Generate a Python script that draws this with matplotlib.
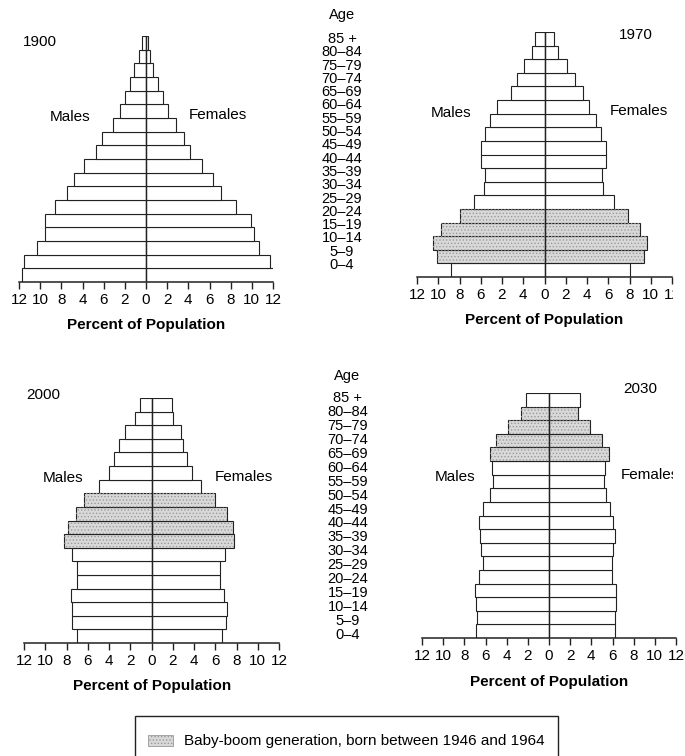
import matplotlib
matplotlib.use("Agg")
import matplotlib.pyplot as plt
from matplotlib.patches import Rectangle
from matplotlib.transforms import Bbox

plt.rcParams['font.family'] = ['Liberation Sans', 'DejaVu Sans']
plt.rcParams['hatch.linewidth'] = 0.6

# age groups, bottom (0-4) to top (85+)
ages = ["0\u20134", "5\u20139", "10\u201314", "15\u201319", "20\u201324", "25\u201329",
        "30\u201334", "35\u201339", "40\u201344", "45\u201349", "50\u201354", "55\u201359",
        "60\u201364", "65\u201369", "70\u201374", "75\u201379", "80\u201384", "85 +"]

# percent of population, bottom to top
males_1900 = [11.7, 11.5, 10.3, 9.5, 9.5, 8.6, 7.5, 6.8, 5.9, 4.7, 4.2, 3.1, 2.5, 2.0, 1.5, 1.1, 0.7, 0.4]
females_1900 = [12.3, 11.7, 10.7, 10.2, 9.9, 8.5, 7.1, 6.3, 5.3, 4.2, 3.6, 2.8, 2.1, 1.6, 1.1, 0.7, 0.4, 0.2]

males_1970 = [8.8, 10.1, 10.5, 9.7, 8.0, 6.6, 5.7, 5.6, 6.0, 6.0, 5.6, 5.1, 4.5, 3.2, 2.6, 1.9, 1.2, 0.85]
females_1970 = [8.0, 9.4, 9.6, 9.0, 7.9, 6.5, 5.5, 5.4, 5.75, 5.75, 5.3, 4.8, 4.2, 3.6, 2.9, 2.1, 1.25, 0.9]

males_2000 = [7.0, 7.5, 7.5, 7.6, 7.0, 7.0, 7.5, 8.2, 7.9, 7.1, 6.4, 4.9, 4.0, 3.5, 3.05, 2.5, 1.6, 1.1]
females_2000 = [6.6, 7.0, 7.1, 6.8, 6.4, 6.4, 6.9, 7.8, 7.7, 7.1, 6.0, 4.7, 3.8, 3.3, 3.0, 2.8, 2.0, 1.9]

males_2030 = [6.9, 6.8, 6.9, 7.0, 6.6, 6.25, 6.4, 6.55, 6.6, 6.2, 5.55, 5.3, 5.4, 5.6, 5.0, 3.85, 2.65, 2.2]
females_2030 = [6.2, 6.2, 6.3, 6.35, 5.95, 5.95, 6.0, 6.2, 6.05, 5.8, 5.4, 5.2, 5.3, 5.7, 5.0, 3.9, 2.75, 2.9]

# baby-boom rows (index into ages)
boom_1900 = []
boom_1970 = [1, 2, 3, 4]
boom_2000 = [7, 8, 9, 10]
boom_2030 = [13, 14, 15, 16]

ticks_1900 = ["12", "10", "8", "4", "6", "2", "0", "2", "4", "6", "8", "10", "12"]
ticks_1970 = ["12", "10", "8", "6", "2", "4", "0", "2", "4", "6", "8", "10", "12"]
ticks_std = ["12", "10", "8", "6", "4", "2", "0", "2", "4", "6", "8", "10", "12"]

W, H = 685, 756
fig = plt.figure(figsize=(W / 100, H / 100), dpi=100)
fig.patch.set_facecolor('white')

BOOM = '#d9d9d9'
LINE = '#222222'


def ftext(x, y, s, **kw):
    kw.setdefault('va', 'center')
    kw.setdefault('ha', 'center')
    return fig.text(x / W, 1 - y / H, s, **kw)


def pyramid(males, females, boom, ticklabels, xl, xr, ytop, ybot):
    ax = fig.add_axes([xl / W, 1 - ybot / H, (xr - xl) / W, (ybot - ytop) / H])
    pos = list(range(len(ages)))
    fc = [BOOM if i in boom else 'white' for i in pos]
    ax.barh(pos, [-m for m in males], height=1, color=fc, edgecolor=LINE, linewidth=0.8, zorder=2)
    ax.barh(pos, females, height=1, color=fc, edgecolor=LINE, linewidth=0.8, zorder=2)
    # stipple on the baby-boom rows
    for i in boom:
        ax.barh(i, -males[i], height=1, color='none', edgecolor='#9a9a9a', hatch='.....', linewidth=0, zorder=3)
        ax.barh(i, females[i], height=1, color='none', edgecolor='#9a9a9a', hatch='.....', linewidth=0, zorder=3)
    ax.plot([0, 0], [-0.5, len(ages) - 0.5], color=LINE, lw=1.0, zorder=4)
    ax.set_xlim(-12, 12)
    ax.set_ylim(-0.5, len(ages) - 0.5)
    ax.set_xticks(range(-12, 13, 2))
    ax.set_xticklabels(ticklabels)
    ax.set_yticks([])
    for s in ['left', 'right', 'top']:
        ax.spines[s].set_visible(False)
    ax.spines['bottom'].set_linewidth(1.1)
    ax.spines['bottom'].set_color(LINE)
    ax.tick_params(axis='x', direction='out', length=5, width=1.0, color=LINE,
                   labelsize=11, pad=3)
    ax.patch.set_alpha(0)
    return ax


ax1 = pyramid(males_1900, females_1900, boom_1900, ticks_1900, 19, 273, 36, 282)
ax2 = pyramid(males_1970, females_1970, boom_1970, ticks_1970, 417, 672, 32, 277)
ax3 = pyramid(males_2000, females_2000, boom_2000, ticks_std, 24, 279, 398, 643)
ax4 = pyramid(males_2030, females_2030, boom_2030, ticks_std, 422, 676, 393, 638)

# the scan is cut on the right of the upper-right and lower-right panels
cut = Bbox.from_extents(0, 0, 673, H)
for lab in ax2.get_xticklabels():
    lab.set_clip_box(cut)
    lab.set_clip_on(True)

ftext(146, 325, "Percent of Population", fontsize=11, fontweight='bold')
ftext(544, 320, "Percent of Population", fontsize=11, fontweight='bold')
ftext(152, 686, "Percent of Population", fontsize=11, fontweight='bold')
ftext(549, 682, "Percent of Population", fontsize=11, fontweight='bold')

ftext(40, 42, "1900", fontsize=11)
ftext(636, 35, "1970", fontsize=11)
ftext(43, 395, "2000", fontsize=11)
ftext(640, 389, "2030", fontsize=11)

ftext(70, 117, "Males", fontsize=11)
ftext(218, 115, "Females", fontsize=11)
ftext(451, 113, "Males", fontsize=11)
ftext(639, 111, "Females", fontsize=11)
ftext(63, 478, "Males", fontsize=11)
ftext(244, 477, "Females", fontsize=11)
ftext(455, 477, "Males", fontsize=11)
fem = ftext(621, 475, "Females", fontsize=11, ha='left')
fem.set_clip_box(cut)
fem.set_clip_on(True)

# age columns
ftext(342, 15, "Age", fontsize=10.5)
ftext(347, 376, "Age", fontsize=10.5)
n = len(ages)
for i, a in enumerate(ages):
    ftext(342, 265 - i * (265 - 39) / (n - 1), a, fontsize=10.5)
    ftext(348, 635 - i * (635 - 398) / (n - 1), a, fontsize=10.5)

# legend box
fig.patches.append(Rectangle((135 / W, 1 - 770 / H), (558 - 135) / W, (770 - 716) / H,
                             transform=fig.transFigure, facecolor='white', edgecolor=LINE,
                             linewidth=1.0))
fig.patches.append(Rectangle((148 / W, 1 - 746 / H), 25 / W, 11 / H,
                             transform=fig.transFigure, facecolor=BOOM, edgecolor='#9a9a9a',
                             hatch='.....', linewidth=0.6))
ftext(184, 741, "Baby-boom generation, born between 1946 and 1964", fontsize=11, ha='left')

fig.savefig("out.png", dpi=100)
